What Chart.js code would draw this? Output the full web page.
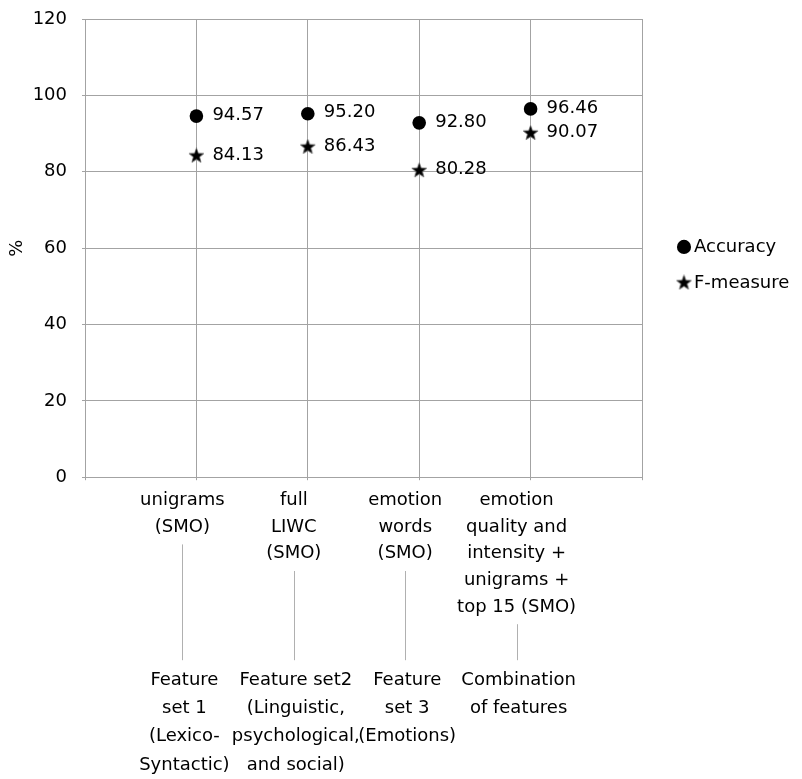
<!DOCTYPE html>
<html><head><meta charset="utf-8">
<script src="https://cdn.jsdelivr.net/npm/chart.js@4/dist/chart.umd.min.js"></script>
<style>html,body{margin:0;padding:0;background:#fff;}#wrap{width:802px;height:779px;position:relative;}</style>
</head><body><div id="wrap"><canvas id="c"></canvas></div>
<script>
// ---- data ----
const methods = [
  ["unigrams", "(SMO)"],
  ["full", "LIWC", "(SMO)"],
  ["emotion", "words", "(SMO)"],
  ["emotion", "quality and", "intensity +", "unigrams +", "top 15 (SMO)"]
];
const featureGroups = [
  ["Feature", "set 1", "(Lexico-", "Syntactic)"],
  ["Feature set2", "(Linguistic,", "psychological,", "and social)"],
  ["Feature", "set 3", "(Emotions)"],
  ["Combination", "of features"]
];
const accuracy = [94.57, 95.20, 92.80, 96.46];
const fMeasure = [84.13, 86.43, 80.28, 90.07];
const yTicks = [0, 20, 40, 60, 80, 100, 120];
const seriesNames = ["Accuracy", "F-measure"];

// ---- styles ----
const FONT = "'DejaVu Sans', Verdana, sans-serif";
const GRID = '#a3a3a3';
const L1 = 26.6, L2 = 28.2;
const X_TL = 3, X_PAD = 7, X2_PAD = 46;

function starCanvas(size) {
  const cv = document.createElement('canvas');
  cv.width = size; cv.height = size;
  const c = cv.getContext('2d');
  const cx = size / 2, cy = size / 2, ro = size / 2 - 0.8, ri = ro * 0.42;
  c.beginPath();
  for (let k = 0; k < 10; k++) {
    const r = k % 2 ? ri : ro;
    const a = -Math.PI / 2 + k * Math.PI / 5;
    c.lineTo(cx + r * Math.cos(a), cy + r * Math.sin(a));
  }
  c.closePath();
  c.fillStyle = '#000'; c.fill();
  c.strokeStyle = '#555'; c.lineWidth = 0.8; c.stroke();
  return cv;
}
const STAR = starCanvas(17);

const valueLabels = {
  id: 'valueLabels',
  afterDatasetsDraw(chart) {
    const ctx = chart.ctx;
    ctx.save();
    ctx.font = '18px ' + FONT;
    ctx.fillStyle = '#000';
    ctx.textAlign = 'left';
    ctx.textBaseline = 'middle';
    chart.data.datasets.forEach((ds, di) => {
      chart.getDatasetMeta(di).data.forEach((pt, i) => {
        ctx.fillText(ds.data[i].y.toFixed(2), pt.x + 16, pt.y - 1);
      });
    });
    ctx.restore();
  }
};

const connectors = {
  id: 'connectors',
  afterDraw(chart) {
    const xs = chart.scales.x, x2 = chart.scales.x2;
    const ctx = chart.ctx;
    ctx.save();
    ctx.strokeStyle = '#b0b0b0';
    ctx.lineWidth = 1;
    methods.forEach((m, i) => {
      const px = Math.round(xs.getPixelForValue(i + 1) - 14) + 0.5;
      const top = xs.top + X_TL + X_PAD + m.length * L1 + 4;
      const bot = x2.top + X2_PAD - 6;
      ctx.beginPath(); ctx.moveTo(px, top); ctx.lineTo(px, bot); ctx.stroke();
    });
    ctx.restore();
  }
};

const maxLines = arr => Math.max(...arr.map(a => a.length));

new Chart(document.getElementById('c'), {
  type: 'scatter',
  data: {
    datasets: [
      {
        label: seriesNames[0],
        data: accuracy.map((v, i) => ({x: i + 1, y: v})),
        pointStyle: 'circle', pointRadius: 6.8, pointHoverRadius: 6.8,
        backgroundColor: '#000', borderColor: '#000', borderWidth: 0
      },
      {
        label: seriesNames[1],
        data: fMeasure.map((v, i) => ({x: i + 1, y: v})),
        pointStyle: STAR, pointRadius: 8,
        backgroundColor: '#000', borderColor: '#000', borderWidth: 0
      }
    ]
  },
  options: {
    responsive: true,
    maintainAspectRatio: false,
    animation: false,
    events: [],
    layout: {padding: {top: 19, right: 4, bottom: 0, left: 0}},
    plugins: {
      tooltip: {enabled: false},
      legend: {
        position: 'right',
        fullSize: false,
        align: 'center',
        title: {display: true, text: ' ', padding: 6, font: {size: 18, family: FONT}},
        labels: {
          usePointStyle: true,
          boxWidth: 2, boxHeight: 10,
          padding: 18,
          color: '#000',
          font: {size: 18, family: FONT}
        }
      }
    },
    scales: {
      x: {
        type: 'linear', position: 'bottom',
        min: 0, max: methods.length + 1,
        afterBuildTicks: s => { s.ticks = Array.from({length: methods.length + 2}, (_, i) => ({value: i})); },
        afterFit: s => { s.height = X_TL + X_PAD + maxLines(methods) * L1; s.paddingLeft = 0; s.paddingRight = 0; },
        grid: {color: GRID, lineWidth: 1, tickLength: X_TL, drawTicks: true},
        border: {color: GRID, width: 1},
        ticks: {
          autoSkip: false, maxRotation: 0, minRotation: 0,
          padding: X_PAD, labelOffset: -14,
          color: '#000',
          font: {size: 18, family: FONT, lineHeight: L1 / 18},
          callback: v => methods[v - 1] || ''
        }
      },
      x2: {
        type: 'linear', position: 'bottom',
        min: 0, max: methods.length + 1,
        afterBuildTicks: s => { s.ticks = Array.from({length: methods.length + 2}, (_, i) => ({value: i})); },
        afterFit: s => { s.height = X2_PAD + maxLines(featureGroups) * L2; s.paddingLeft = 0; s.paddingRight = 0; },
        grid: {display: false, drawTicks: false},
        border: {display: false},
        ticks: {
          autoSkip: false, maxRotation: 0, minRotation: 0,
          padding: X2_PAD, labelOffset: -12,
          color: '#000',
          font: {size: 18, family: FONT, lineHeight: L2 / 18},
          callback: v => featureGroups[v - 1] || ''
        }
      },
      y: {
        type: 'linear', position: 'left',
        min: 0, max: 120,
        afterBuildTicks: s => { s.ticks = yTicks.map(v => ({value: v})); },
        afterFit: s => { s.width = 85; s.paddingTop = 0; s.paddingBottom = 0; },
        grid: {color: GRID, lineWidth: 1, tickLength: 3},
        border: {color: GRID, width: 1},
        title: {display: true, text: '%', color: '#000', font: {size: 18, family: FONT}, padding: {top: 7, bottom: 3}},
        ticks: {padding: 15, color: '#000', font: {size: 18, family: FONT}}
      },
      yPad: {
        type: 'linear', position: 'right', display: true,
        grid: {display: false, drawTicks: false},
        border: {display: false},
        ticks: {display: false},
        afterFit: s => { s.width = 23; s.paddingTop = 0; s.paddingBottom = 0; }
      }
    }
  },
  plugins: [valueLabels, connectors]
});
</script>
</body></html>
